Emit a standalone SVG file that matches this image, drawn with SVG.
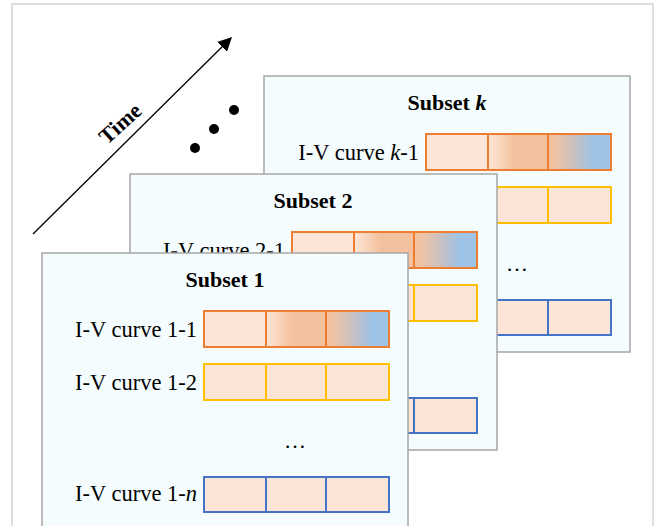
<svg xmlns="http://www.w3.org/2000/svg" width="656" height="526" viewBox="0 0 656 526">
<style>
.frame{fill:#ffffff;stroke:#d4d4d4;stroke-width:1.5}
.panel{fill:#f5fcfd;stroke:#a6a6a6;stroke-width:1.5}
.title{font-family:"Liberation Serif",serif;font-weight:bold;font-size:22px;fill:#000;text-anchor:middle}
.lab{font-family:"Liberation Serif",serif;font-size:22.5px;fill:#000;text-anchor:end}
.dots{font-family:"Liberation Serif",serif;font-size:22px;fill:#000;text-anchor:middle}
.cell{fill:#fce4d6;stroke-width:2}
.o{stroke:#ed7d31}
.y{stroke:#ffc000}
.b{stroke:#4472c4}
.time{font-family:"Liberation Serif",serif;font-weight:bold;font-size:22px;fill:#000;text-anchor:middle}
</style>
<defs>
<linearGradient id="g2" x1="0" y1="0" x2="1" y2="0">
<stop offset="0" stop-color="#fce4d6"/>
<stop offset="0.08" stop-color="#fbdfcc"/>
<stop offset="0.45" stop-color="#f3c19d"/>
<stop offset="1" stop-color="#f3c19d"/>
</linearGradient>
<linearGradient id="g3" x1="0" y1="0" x2="1" y2="0">
<stop offset="0" stop-color="#f3c19d"/>
<stop offset="0.12" stop-color="#f0c3a6"/>
<stop offset="0.42" stop-color="#c9c0c0"/>
<stop offset="0.72" stop-color="#9dc3e6"/>
<stop offset="1" stop-color="#9dc3e6"/>
</linearGradient>
<marker id="arr" viewBox="0 0 10 10" refX="9" refY="5" markerWidth="14" markerHeight="14" markerUnits="userSpaceOnUse" orient="auto">
<path d="M0,0 L10,5 L0,10 Z" fill="#000"/>
</marker>
</defs>
<rect class="frame" x="12" y="4" width="641" height="540"/>
<g id="connectors">
<line x1="33" y1="234" x2="231" y2="38" stroke="#000" stroke-width="1.3" marker-end="url(#arr)"/>
</g>
<g id="time-label">
<text class="time" transform="translate(125,129) rotate(-42)">Time</text>
</g>
<g id="ellipsis-dots">
<circle cx="195" cy="148" r="5" fill="#000"/>
<circle cx="214" cy="129" r="5" fill="#000"/>
<circle cx="234" cy="110" r="5" fill="#000"/>
</g>
<g id="subset-k" transform="translate(264,76)">
<rect class="panel" x="0" y="0" width="366" height="276"/>
<text class="title" x="183" y="34">Subset <tspan font-style="italic">k</tspan></text>
<text class="lab" x="155" y="84">I-V curve <tspan font-style="italic">k</tspan>-1</text>
<rect class="cell o" x="162" y="58" width="62" height="36"/>
<rect class="cell o" x="224" y="58" width="60" height="36" style="fill:url(#g2)"/>
<rect class="cell o" x="284" y="58" width="63" height="36" style="fill:url(#g3)"/>
<rect class="cell y" x="162" y="111" width="62" height="36"/>
<rect class="cell y" x="224" y="111" width="60" height="36"/>
<rect class="cell y" x="284" y="111" width="63" height="36"/>
<text class="dots" x="253" y="195">…</text>
<rect class="cell b" x="162" y="224" width="62" height="35"/>
<rect class="cell b" x="224" y="224" width="60" height="35"/>
<rect class="cell b" x="284" y="224" width="63" height="35"/>
</g>
<g id="subset-2" transform="translate(130,174)">
<rect class="panel" x="0" y="0" width="367" height="276"/>
<text class="title" x="183" y="34">Subset 2</text>
<text class="lab" x="155" y="84">I-V curve 2-1</text>
<rect class="cell o" x="162" y="58" width="62" height="36"/>
<rect class="cell o" x="224" y="58" width="60" height="36" style="fill:url(#g2)"/>
<rect class="cell o" x="284" y="58" width="63" height="36" style="fill:url(#g3)"/>
<rect class="cell y" x="162" y="111" width="62" height="36"/>
<rect class="cell y" x="224" y="111" width="60" height="36"/>
<rect class="cell y" x="284" y="111" width="63" height="36"/>
<rect class="cell b" x="162" y="224" width="62" height="35"/>
<rect class="cell b" x="224" y="224" width="60" height="35"/>
<rect class="cell b" x="284" y="224" width="63" height="35"/>
</g>
<g id="subset-1" transform="translate(42,253)">
<rect class="panel" x="0" y="0" width="366" height="290"/>
<text class="title" x="183" y="34">Subset 1</text>
<text class="lab" x="155" y="84">I-V curve 1-1</text>
<rect class="cell o" x="162" y="58" width="62" height="36"/>
<rect class="cell o" x="224" y="58" width="60" height="36" style="fill:url(#g2)"/>
<rect class="cell o" x="284" y="58" width="63" height="36" style="fill:url(#g3)"/>
<text class="lab" x="155" y="137">I-V curve 1-2</text>
<rect class="cell y" x="162" y="111" width="62" height="36"/>
<rect class="cell y" x="224" y="111" width="60" height="36"/>
<rect class="cell y" x="284" y="111" width="63" height="36"/>
<text class="dots" x="253" y="195">…</text>
<text class="lab" x="155" y="248">I-V curve 1-<tspan font-style="italic">n</tspan></text>
<rect class="cell b" x="162" y="224" width="62" height="35"/>
<rect class="cell b" x="224" y="224" width="60" height="35"/>
<rect class="cell b" x="284" y="224" width="63" height="35"/>
</g>
</svg>
